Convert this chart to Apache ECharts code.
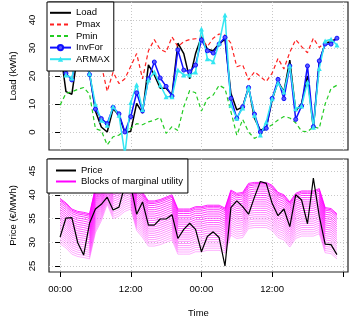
<!DOCTYPE html>
<html><head><meta charset="utf-8">
<script src="https://cdn.jsdelivr.net/npm/echarts@6/dist/echarts.min.js"></script>
<style>html,body{margin:0;padding:0;background:#fff}#c{width:350px;height:320px}</style>
</head><body><div id="c"></div>
<script>
// ---- data (hourly, two days) ----
const hours = [0,1,2,3,4,5,6,7,8,9,10,11,12,13,14,15,16,17,18,19,20,21,22,23,
               24,25,26,27,28,29,30,31,32,33,34,35,36,37,38,39,40,41,42,43,44,45,46,47];
const load = [30,14.4,13.5,28,30,21,7.5,1.8,0,8.3,6,-0.3,0.3,10.2,6.7,24,20.4,15.6,15.6,13.2,31.7,28,19,28,
              34,29.6,29,31.5,33.2,13.8,7.9,9,16,4.9,0.6,1.6,11.4,18,14.4,25.7,7.5,10.2,20,1.3,25,31.7,32.3,33.5];
const pmax = [32,28,26,30,33,32,28,24,14.5,21.4,17.3,19,23.5,28,19,29,33,29.5,28.5,34,30.5,32.3,33,33.3,
              33.5,30.5,33.5,35,34.6,31.7,23.3,24,18.6,21.5,19.8,18,21,26.3,22.5,28.5,33,30.5,28.3,33.5,30.2,32,32.5,33.5];
const pmin = [9.6,13.8,14.4,15.2,15.9,13.5,1.2,0.5,-4.6,-1.7,-1.1,0.5,1.3,3,2.6,3.6,4.2,5.2,-0.5,1.9,0.5,9,14.8,14,
              7.5,11.9,13.2,16.7,15.5,7.3,-1.1,4.5,0,-2.3,-1.1,1.3,2.6,4.3,5.5,5,3.3,0.3,0.1,1.9,1.3,10,15.5,16.7];
const invFor = [29,21,18.6,30,27,20.5,8.2,4.8,3,8.8,6.5,0,5.5,14,7.5,19,25,19.3,16.3,12.8,29.3,22.1,21.5,23.9,
                32.9,29,28.2,31.4,33.8,12,4.9,9,15.9,6.4,0,1.3,12,18.8,11.9,23.6,4.5,9.3,23.6,1.9,25.4,31.4,31.4,33.5];
const armax = [28,20.4,19.3,29,26,20.8,9.9,4.2,2.4,9,6,-8,10.5,16.9,8,18.6,21.4,16.8,12.6,12.6,22.1,20.4,20.4,21.4,
               36.8,26.2,25.1,31.7,41.8,9.6,4.9,8.6,15.9,6,-1.1,3.6,11.9,17.5,14.3,23.6,8.3,9.3,17.9,1.7,22.7,32.5,33.1,31.1];
const price = [31.1,35.1,35.2,29.9,27.3,34,37,38,39.5,36.8,37.4,42,42,35.9,38.5,33.6,33.6,34.9,34.9,35.8,30.8,32.7,34,32.7,
               28,31.2,32.2,31,25,37.3,38.7,37.5,35.9,39.5,42.8,42.4,38.2,35.6,37,33.3,40,38.9,33.9,43.5,35.5,29.6,29.5,27.4];
// upper block of marginal utility per hour and the drop of each further block below it
const blockTop = [39.2,38.3,37,36.5,36.3,36,41.5,44,47.5,44.5,45,46,46.5,42,40.5,38.7,38.7,39,39.5,40,37,37,37,37.5,
                  37.5,37.8,37.8,37.8,37.2,41,40.3,40.5,42.4,42.6,42.6,42.6,42,40.5,40,38.5,40.3,40.8,40.8,40.8,41.3,37.3,37.1,36];
const blockDrops = [0,0.25,0.55,0.95,1.4,1.85,2.3,2.75,3.2,3.65,4.1,4.55,5.0,5.45,5.9,6.35,6.8,7.25,7.7,8.15,8.6,9.05,9.5];
// ---- axes ticks ----
const timeTicks = [0,12,24,36,48];
const timeLabels = ['00:00','12:00','00:00','12:00',''];
const loadTicks = [0,10,20,30,40];
const priceTicks = [25,30,35,40,45];

const FONT = 'Liberation Sans';
const pair = arr => hours.map((h,i)=>[h,arr[i]]);
const gridLine = {show:true, lineStyle:{color:'#c8c8c8', type:[1,2], width:1}};

const xBase = (gi, labels) => ({
  type:'value', gridIndex:gi, min:-1.88, max:48.88,
  axisLine:{show:false},
  axisTick:{show:labels, customValues:timeTicks, length:5, inside:false, lineStyle:{color:'#000'}},
  axisLabel:{show:labels, customValues:timeTicks, margin:12, fontSize:9.5, fontFamily:FONT, color:'#000',
             formatter:v=>timeLabels[timeTicks.indexOf(v)] ?? ''},
  splitLine:gridLine
});

const series = [];
series.push({name:'Load', type:'line', xAxisIndex:0, yAxisIndex:0, data:pair(load), symbol:'none',
  lineStyle:{color:'#000', width:1.5}, itemStyle:{color:'#000'}});
series.push({name:'Pmax', type:'line', xAxisIndex:0, yAxisIndex:0, data:pair(pmax), symbol:'none',
  lineStyle:{color:'#ff2020', width:1.2, type:[4,3]}, itemStyle:{color:'#ff2020'}});
series.push({name:'Pmin', type:'line', xAxisIndex:0, yAxisIndex:0, data:pair(pmin), symbol:'none',
  lineStyle:{color:'#22cc22', width:1.2, type:[4,3]}, itemStyle:{color:'#22cc22'}});
series.push({name:'InvFor', type:'line', xAxisIndex:0, yAxisIndex:0, data:pair(invFor), symbol:'circle', symbolSize:4,
  lineStyle:{color:'#1010ff', width:1.5}, itemStyle:{color:'#5a5aff', borderColor:'#1010ff', borderWidth:1}});
series.push({name:'ARMAX', type:'line', xAxisIndex:0, yAxisIndex:0, data:pair(armax), symbol:'triangle', symbolSize:5,
  lineStyle:{color:'#33e6f2', width:1.5}, itemStyle:{color:'#33e6f2'}});

blockDrops.forEach((d,k)=>{
  const a = 0.95 - 0.6*k/(blockDrops.length-1);
  series.push({name:'Blocks of marginal utility', type:'line', xAxisIndex:1, yAxisIndex:1,
    data:hours.map((h,i)=>[h, blockTop[i]-d]), symbol:'none', z:2,
    lineStyle:{color:`rgba(255,0,255,${a.toFixed(3)})`, width:0.9}, itemStyle:{color:'#ff00ff'}});
});
series.push({name:'Price', type:'line', xAxisIndex:1, yAxisIndex:1, data:pair(price), symbol:'none', z:3,
  lineStyle:{color:'#000', width:1.2}, itemStyle:{color:'#000'}});

const noSym = {opacity:0};
const legText = {fontSize:9.5, fontFamily:FONT, color:'#000', lineHeight:11.6};
const option = {
  animation:false,
  backgroundColor:'#fff',
  textStyle:{fontFamily:FONT},
  grid:[
    {left:47, top:2, width:301, height:148, show:true, borderColor:'#222', borderWidth:1.2, backgroundColor:'transparent'},
    {left:47, top:159, width:301, height:113, show:true, borderColor:'#222', borderWidth:1.2, backgroundColor:'transparent'}
  ],
  xAxis:[xBase(0,false), Object.assign(xBase(1,true), {name:'Time', nameLocation:'middle', nameGap:36,
     nameTextStyle:{fontSize:9.5, fontFamily:FONT, color:'#000'}})],
  yAxis:[
    {type:'value', gridIndex:0, min:-6.43, max:46.43,
     name:'Load (kWh)', nameLocation:'middle', nameGap:31, nameTextStyle:{fontSize:9.5, fontFamily:FONT, color:'#000'},
     axisLine:{show:false},
     axisTick:{show:true, customValues:loadTicks, length:5, lineStyle:{color:'#000'}},
     axisLabel:{customValues:loadTicks, rotate:90, margin:12, fontSize:9.5, fontFamily:FONT, color:'#000'},
     splitLine:gridLine},
    {type:'value', gridIndex:1, min:23.74, max:47.53,
     name:'Price (€/MWh)', nameLocation:'middle', nameGap:31, nameTextStyle:{fontSize:9.5, fontFamily:FONT, color:'#000'},
     axisLine:{show:false},
     axisTick:{show:true, customValues:priceTicks, length:5, lineStyle:{color:'#000'}},
     axisLabel:{customValues:priceTicks, rotate:90, margin:12, fontSize:9.5, fontFamily:FONT, color:'#000'},
     splitLine:gridLine}
  ],
  legend:[
    {data:[{name:'Load', itemStyle:noSym},{name:'Pmax', itemStyle:noSym},{name:'Pmin', itemStyle:noSym},
           {name:'InvFor'},{name:'ARMAX'}],
     orient:'vertical', left:47, top:2,
     itemWidth:21, itemHeight:6.5, itemGap:0, padding:[5,4,6,2],
     backgroundColor:'#fff', borderColor:'#000', borderWidth:1, selectedMode:false,
     textStyle:legText},
    {data:[{name:'Price', itemStyle:noSym}, {name:'Blocks of marginal utility', itemStyle:noSym, lineStyle:{color:'#ff00ff', width:2}}],
     orient:'vertical', left:47, top:159,
     itemWidth:20, itemHeight:6, itemGap:0, padding:[6,5,6,8],
     backgroundColor:'#fff', borderColor:'#000', borderWidth:1, selectedMode:false,
     textStyle:Object.assign({}, legText, {lineHeight:11})}
  ],
  series
};
const chart = echarts.init(document.getElementById('c'), null, {renderer:'canvas'});
chart.setOption(option);
</script>
</body></html>
